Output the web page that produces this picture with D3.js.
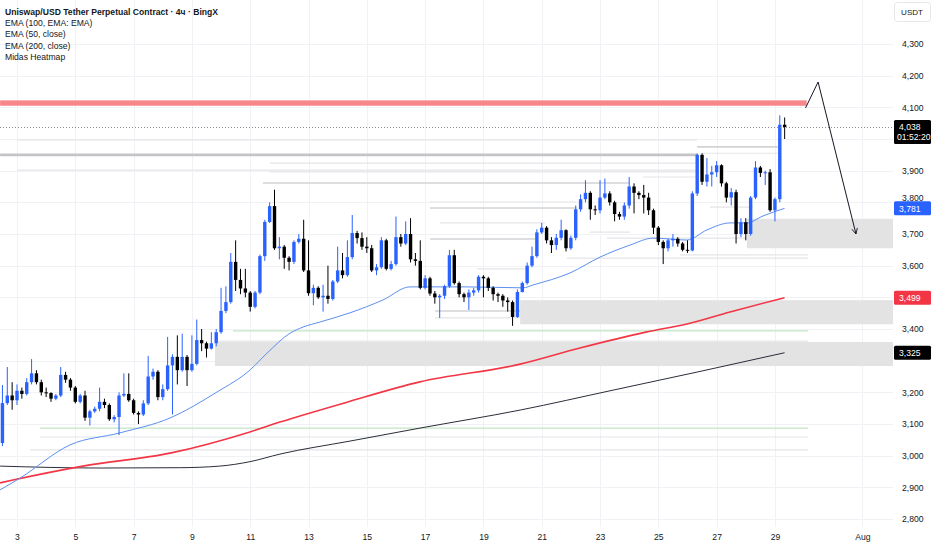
<!DOCTYPE html>
<html>
<head>
<meta charset="utf-8">
<script src="https://cdn.jsdelivr.net/npm/d3@7"></script>
<style>
body { margin: 0; background: #fff; }
svg { display: block; font-family: "Liberation Sans", Arial, sans-serif; }
</style>
</head>
<body>
<svg id="chart" width="932" height="550"></svg>
<script>
// 4h candles, first one opens 2 July 12:00
var candleStart = Date.UTC(2025, 6, 2, 12);
var opens = [
  3040,3166,3190,3175,3205,3195,3232,3260,3232,3200,3198,3180,3190,3255,3240,3215,3170,3190,3120,3140,
  3148,3170,3160,3115,3122,3190,3195,3175,3135,3130,3165,3250,3265,3185,3210,3285,3312,3270,3312,3270,
  3290,3365,3355,3338,3355,3390,3457,3485,3612,3555,3528,3515,3470,3515,3630,3738,3788,3655,3660,3625,
  3612,3675,3685,3585,3513,3530,3500,3505,3495,3550,3585,3570,3627,3703,3687,3660,3655,3585,3595,3680,
  3590,3605,3690,3670,3700,3620,3615,3530,3560,3512,3500,3505,3535,3633,3545,3510,3500,3515,3522,3565,
  3560,3530,3510,3505,3490,3485,3438,3517,3545,3600,3630,3705,3720,3680,3665,3688,3712,3655,3688,3778,
  3810,3830,3778,3775,3815,3828,3800,3763,3755,3790,3850,3830,3823,3815,3775,3720,3675,3655,3680,3685,
  3670,3650,3648,3828,3950,3865,3888,3895,3917,3860,3815,3832,3700,3737,3700,3815,3910,3893,3895,3775,
  3810,4045
];
var closes = [
  3166,3190,3175,3205,3195,3232,3260,3232,3200,3198,3180,3190,3255,3240,3215,3170,3190,3120,3140,3148,
  3170,3160,3115,3122,3190,3195,3175,3135,3130,3165,3250,3265,3185,3210,3285,3312,3270,3312,3270,3290,
  3365,3355,3338,3355,3390,3457,3485,3612,3555,3528,3515,3470,3515,3630,3738,3788,3655,3660,3625,3612,
  3675,3685,3585,3513,3530,3500,3505,3495,3550,3585,3570,3627,3703,3687,3660,3655,3585,3595,3680,3590,
  3605,3690,3670,3700,3620,3615,3530,3560,3512,3500,3505,3535,3633,3545,3510,3500,3515,3522,3565,3560,
  3530,3510,3505,3490,3485,3438,3517,3545,3600,3630,3705,3720,3680,3665,3688,3712,3655,3688,3778,3810,
  3830,3778,3775,3815,3828,3800,3763,3755,3790,3850,3830,3823,3815,3775,3720,3675,3655,3680,3685,3670,
  3650,3648,3828,3950,3865,3888,3895,3917,3860,3815,3832,3700,3737,3700,3815,3910,3893,3895,3775,3810,
  4045,4038
];
var highs = [
  3223,3280,3232,3225,3215,3245,3305,3270,3240,3215,3200,3195,3280,3265,3245,3220,3195,3205,3145,3155,
  3215,3180,3165,3128,3200,3260,3260,3180,3140,3175,3315,3275,3270,3225,3375,3320,3380,3385,3318,3380,
  3430,3400,3360,3390,3400,3530,3535,3640,3680,3590,3590,3520,3520,3635,3745,3800,3840,3690,3665,3630,
  3680,3700,3745,3680,3540,3535,3540,3600,3555,3660,3640,3680,3760,3710,3705,3690,3665,3605,3690,3685,
  3615,3755,3700,3740,3750,3640,3680,3570,3565,3520,3510,3540,3650,3650,3550,3515,3525,3530,3570,3570,
  3565,3535,3515,3510,3500,3490,3525,3550,3610,3660,3715,3735,3725,3690,3700,3745,3715,3695,3790,3825,
  3870,3835,3790,3870,3875,3835,3805,3770,3800,3880,3860,3835,3855,3830,3780,3725,3680,3685,3700,3690,
  3675,3680,3835,3955,3955,3940,3915,3930,3920,3865,3845,3840,3750,3750,3820,3930,3915,3900,3905,3815,
  4075,4068
];
var lows = [
  3030,3160,3145,3160,3180,3190,3225,3225,3190,3185,3170,3175,3185,3230,3205,3165,3165,3110,3095,3135,
  3140,3150,3110,3105,3065,3185,3170,3130,3100,3125,3160,3240,3175,3175,3205,3130,3225,3265,3220,3265,
  3285,3330,3310,3335,3345,3385,3450,3480,3520,3510,3500,3455,3465,3510,3615,3735,3650,3620,3590,3585,
  3605,3670,3580,3505,3475,3495,3455,3480,3490,3545,3560,3565,3620,3670,3650,3640,3580,3570,3590,3585,
  3585,3600,3660,3665,3610,3600,3525,3525,3505,3480,3435,3495,3530,3540,3500,3485,3460,3505,3515,3500,
  3520,3490,3485,3470,3455,3410,3435,3515,3540,3595,3625,3700,3670,3640,3650,3680,3645,3650,3680,3770,
  3800,3745,3760,3765,3810,3790,3740,3745,3745,3780,3765,3810,3765,3760,3700,3665,3605,3645,3660,3660,
  3645,3640,3645,3820,3855,3850,3850,3880,3850,3800,3790,3670,3690,3680,3695,3810,3880,3855,3770,3740,
  3800,4000
];

// moving averages, [July day, price] sampled along each line
var ema50 = [[2.42,2892],[3.10,2929],[4.82,3034],[6.53,3072],[8.25,3119],[9.86,3201],[11.0,3271],
  [11.58,3324],[12.37,3387],[12.81,3406],[13.39,3422],[14.42,3451],[15.56,3492],[16.48,3533],
  [18.44,3533],[20.36,3530],[20.70,3539],[21.97,3577],[23.0,3627],[24.03,3665],[24.82,3687],
  [25.98,3681],[26.67,3713],[27.46,3735],[28.04,3735],[28.59,3757],[29.33,3781]];
var ema100 = [[2.42,2914],[2.86,2923],[5.26,2967],[8.25,3008],[10.99,3075],[12.02,3106],[14.32,3169],
  [16.82,3233],[20.26,3289],[22.31,3340],[24.61,3391],[25.98,3416],[27.46,3454],[29.33,3499]];
var ema200 = [[2.42,2967],[5.85,2961],[8.6,2962],[9.95,2967],[10.99,2981],[12.02,3005],[14.42,3046],
  [16.82,3087],[20.26,3144],[23.45,3207],[26.33,3264],[29.33,3325]];

// Midas heatmap: [price, from day, to day, strength]
var heatLevels = [
  [3950,2.42,26.33,3],[3975,26.33,29.1,2],[3955,26.5,29.1,1],[3997,3.0,26.33,1],[3902,3.0,26.33,1],
  [3924,11.68,26.33,1],[3896,11.68,26.33,1],[3861,11.44,24.03,2],[3880,24.47,26.33,1],
  [3801,17.17,22.2,1],[3782,17.17,22.2,2],[3735,17.51,21.11,1],[3684,17.17,20.84,2],
  [3706,22.66,24.03,1],[3687,23.24,30.14,1],[3634,25.74,30.14,1],[3624,21.87,30.14,1],
  [3590,18.78,20.5,1],[3785,26.77,28.25,1],[3457,17.34,20.26,2],[3435,17.34,20.26,1],
  [3362,9.79,30.14,1],[3059,3.79,30.14,1],[3018,3.45,30.14,1]
];
var greenLevels = [[3394,10.41,30.14],[3087,3.79,30.14]];
// grey zones: [top, bottom, from day]
var zones = [[3748,3655,28.04],[3491,3415,20.26],[3359,3283,9.79]];
// red resistance band: [top, bottom, from day, to day]
var redZone = [4122,4105,2.42,30.09];
// drawn arrow: [day, price]
var arrowPts = [[30.05,4098],[30.48,4180],[31.78,3700]];

var priceTicks = [2800,2900,3000,3100,3200,3300,3400,3500,3600,3700,3800,3900,4000,4100,4200,4300];
var tickDays = [3,5,7,9,11,13,15,17,19,21,23,25,27,29,32];
var tickLabels = ["3","5","7","9","11","13","15","17","19","21","23","25","27","29","Aug"];
var legendLines = ["Uniswap/USD Tether Perpetual Contract · 4ч · BingX","EMA (100, EMA: EMA)",
  "EMA (50, close)","EMA (200, close)","Midas Heatmap"];
var lastPrice = 4038, countdown = "01:52:20";
var ema50Last = 3781, ema100Last = 3499, ema200Last = 3325;
// axis prices hidden behind the value marks in the picture
var coveredTicks = [4000, 3500, 3300];
// axis price only half visible above a mark, lifted clear of it
var liftedTick = 3800;

function julDay(d) { return new Date(Date.UTC(2025, 6, 1) + (d - 1) * 864e5); }

var plotR = 893;
var svg = d3.select("#chart");
var x = d3.scaleUtc().domain([julDay(2.4167), julDay(33.05)]).range([0, plotR]);
var y = d3.scaleLinear().domain([2800, 4300]).range([519, 44]);

svg.append("rect").attr("width", 932).attr("height", 550).attr("fill", "#fff");

// grid
var grid = svg.append("g").attr("stroke", "#f1f2f5").attr("stroke-width", 1);
grid.selectAll(".v").data(tickDays).enter().append("line")
  .attr("x1", function(d){ return Math.round(x(julDay(d))) + 0.5; })
  .attr("x2", function(d){ return Math.round(x(julDay(d))) + 0.5; })
  .attr("y1", 0).attr("y2", 527);
grid.selectAll(".h").data(priceTicks).enter().append("line")
  .attr("x1", 0).attr("x2", plotR)
  .attr("y1", function(d){ return Math.round(y(d)) + 0.5; })
  .attr("y2", function(d){ return Math.round(y(d)) + 0.5; });

// zones
svg.append("g").selectAll("rect").data(zones).enter().append("rect")
  .attr("x", function(d){ return x(julDay(d[2])); })
  .attr("y", function(d){ return y(d[0]); })
  .attr("width", function(d){ return plotR - x(julDay(d[2])); })
  .attr("height", function(d){ return y(d[1]) - y(d[0]); })
  .attr("fill", "#e3e3e3");

// heatmap lines
var heatColor = d3.scaleOrdinal().domain([1,2,3]).range(["#e4e5e8","#d2d3d6","#c3c4c7"]);
var heatWidth = d3.scaleOrdinal().domain([1,2,3]).range([1.2,1.6,2.6]);
svg.append("g").selectAll("line").data(heatLevels).enter().append("line")
  .attr("x1", function(d){ return x(julDay(d[1])); })
  .attr("x2", function(d){ return x(julDay(d[2])); })
  .attr("y1", function(d){ return y(d[0]); })
  .attr("y2", function(d){ return y(d[0]); })
  .attr("stroke", function(d){ return heatColor(d[3]); })
  .attr("stroke-width", function(d){ return heatWidth(d[3]); });
svg.append("g").selectAll("line").data(greenLevels).enter().append("line")
  .attr("x1", function(d){ return x(julDay(d[1])); })
  .attr("x2", function(d){ return x(julDay(d[2])); })
  .attr("y1", function(d){ return y(d[0]); })
  .attr("y2", function(d){ return y(d[0]); })
  .attr("stroke", "#c3e6c5").attr("stroke-width", 1.4);

// red band
svg.append("rect")
  .attr("x", x(julDay(redZone[2]))).attr("y", y(redZone[0]))
  .attr("width", x(julDay(redZone[3])) - x(julDay(redZone[2])))
  .attr("height", y(redZone[1]) - y(redZone[0]))
  .attr("fill", "#f7878b");

// moving averages
var line = d3.line().curve(d3.curveMonotoneX)
  .x(function(d){ return x(julDay(d[0])); })
  .y(function(d){ return y(d[1]); });
svg.append("path").datum(ema200).attr("d", line).attr("fill", "none").attr("stroke", "#2a2e39").attr("stroke-width", 1);
svg.append("path").datum(ema100).attr("d", line).attr("fill", "none").attr("stroke", "#f23645").attr("stroke-width", 1.6);
svg.append("path").datum(ema50).attr("d", line).attr("fill", "none").attr("stroke", "#5b8ff0").attr("stroke-width", 1);

// candles
var candles = closes.map(function(c, i){
  return { t: new Date(candleStart + i * 4 * 36e5), o: opens[i], c: c, h: highs[i], l: lows[i] };
});
var bodyW = (x(julDay(2)) - x(julDay(1))) / 6 * 0.7;
var cg = svg.append("g").selectAll("g").data(candles).enter().append("g");
cg.append("line")
  .attr("x1", function(d){ return x(d.t); }).attr("x2", function(d){ return x(d.t); })
  .attr("y1", function(d){ return y(d.h); }).attr("y2", function(d){ return y(d.l); })
  .attr("stroke", function(d){ return d.c >= d.o ? "#2962ff" : "#000"; })
  .attr("stroke-width", 1);
cg.append("rect")
  .attr("x", function(d){ return x(d.t) - bodyW / 2; })
  .attr("width", bodyW)
  .attr("y", function(d){ return y(Math.max(d.o, d.c)); })
  .attr("height", function(d){ return Math.max(1, Math.abs(y(d.o) - y(d.c))); })
  .attr("fill", function(d){ return d.c >= d.o ? "#2962ff" : "#000"; });

// last price dotted line
svg.append("line").attr("x1", 0).attr("x2", plotR)
  .attr("y1", Math.round(y(lastPrice)) + 0.5).attr("y2", Math.round(y(lastPrice)) + 0.5)
  .attr("stroke", "#8a8d96").attr("stroke-dasharray", "1,2");

// arrow
svg.append("defs").append("marker").attr("id", "ah")
  .attr("viewBox", "0 0 10 10").attr("refX", 9).attr("refY", 5)
  .attr("markerWidth", 7).attr("markerHeight", 7).attr("orient", "auto")
  .append("path").attr("d", "M1,1 L9,5 L1,9").attr("fill", "none").attr("stroke", "#131722").attr("stroke-width", 1.2);
svg.append("path").datum(arrowPts).attr("d", d3.line()
    .x(function(d){ return x(julDay(d[0])); }).y(function(d){ return y(d[1]); }))
  .attr("fill", "none").attr("stroke", "#131722").attr("stroke-width", 1)
  .attr("marker-end", "url(#ah)");

// legend
svg.append("g").selectAll("text").data(legendLines).enter().append("text")
  .attr("x", 5).attr("y", function(d, i){ return 15 + i * 11.2; })
  .attr("font-size", 8.6)
  .attr("font-weight", function(d, i){ return i === 0 ? 600 : 400; })
  .attr("fill", "#131722")
  .text(function(d){ return d; });

// price axis
var yAxis = svg.append("g").attr("transform", "translate(" + (plotR + 6) + ",0)")
  .call(d3.axisRight(y).tickValues(priceTicks.filter(function(p){ return coveredTicks.indexOf(p) < 0; }))
    .tickFormat(d3.format(",")).tickSize(0));
yAxis.select(".domain").remove();
yAxis.selectAll("text").attr("font-size", 8.6).attr("fill", "#131722").attr("font-family", "Liberation Sans, Arial");
yAxis.selectAll(".tick").filter(function(d){ return d === liftedTick; })
  .select("text").attr("dy", "-0.25em");

// time axis
var xAxis = svg.append("g").attr("transform", "translate(0,528)")
  .call(d3.axisBottom(x).tickValues(tickDays.map(julDay))
    .tickFormat(function(d, i){ return tickLabels[i]; }).tickSize(0));
xAxis.select(".domain").remove();
xAxis.selectAll("text").attr("font-size", 8.6).attr("fill", "#131722").attr("font-family", "Liberation Sans, Arial").attr("dy", "1.1em");

// currency box
svg.append("rect").attr("x", 894.5).attr("y", 2.5).attr("width", 36).attr("height", 19)
  .attr("rx", 3).attr("fill", "#fff").attr("stroke", "#e6e7ea");
svg.append("text").attr("x", 912).attr("y", 15).attr("text-anchor", "middle")
  .attr("font-size", 8).attr("fill", "#131722").text("USDT");

// value marks on the axis
function mark(v, fill, sub) {
  var cy = y(v), h = sub ? 24 : 14;
  svg.append("rect").attr("x", 894).attr("y", cy - 7).attr("width", 37).attr("height", h)
    .attr("rx", 1.5).attr("fill", fill);
  svg.append("text").attr("x", 899).attr("y", cy + 3.2).attr("font-size", 8.6)
    .attr("fill", "#fff").text(d3.format(",")(v));
  if (sub) svg.append("text").attr("x", 897).attr("y", cy + 13.5).attr("font-size", 8.6)
    .attr("fill", "#fff").text(sub);
}
mark(lastPrice, "#000", countdown);
mark(ema50Last, "#2962ff");
mark(ema100Last, "#f23645");
mark(ema200Last, "#000");
</script>
</body>
</html>
